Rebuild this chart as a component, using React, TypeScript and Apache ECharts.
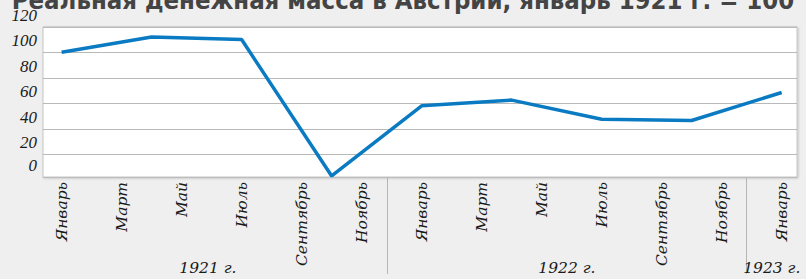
import React, { useEffect, useRef } from "react";
import * as echarts from "echarts";

const chartTitle = "Реальная денежная масса в Австрии, январь 1921 г. = 100";
const monthLabels = [
  "Январь", "Март", "Май", "Июль", "Сентябрь", "Ноябрь",
  "Январь", "Март", "Май", "Июль", "Сентябрь", "Ноябрь",
  "Январь",
];
const labelMonths = [0, 2, 4, 6, 8, 10, 12, 14, 16, 18, 20, 22, 24];
const yearLabels = ["1921 г.", "1922 г.", "1923 г."];
// months counted from January 1921
const dataMonths = [0, 3, 6, 9, 12, 15, 18, 21, 24];
const values = [100, 112, 110, 3, 58, 62.5, 47.5, 46.5, 68.5];
const yTickLabels = [0, 20, 40, 60, 80, 100, 120];

export default function App() {
  const ref = useRef<HTMLDivElement>(null);
  useEffect(() => {
    if (!ref.current) return;
    const chart = echarts.init(ref.current, undefined, { renderer: "svg" });
    const xMin = -0.62;
    const xMax = 24.51;
    const separators = [10.85, 22.83];
    const groupEdges = [-1.1, separators[0], separators[1], xMax];
    const yearCenters = yearLabels.map((_, i) => (groupEdges[i] + groupEdges[i + 1]) / 2);
    const textColor = "#1a1a1a";
    chart.setOption({
      animation: false,
      backgroundColor: "#efefef",
      title: {
        text: chartTitle,
        left: "center",
        top: -18,
        textStyle: {
          fontSize: 25.5,
          fontWeight: "bold",
          fontFamily: "'DejaVu Sans Condensed', 'Liberation Sans Narrow', 'DejaVu Sans', sans-serif",
          color: "#444",
        },
      },
      grid: {
        left: 43,
        right: 9,
        top: 26.8,
        bottom: 102,
        show: true,
        backgroundColor: "#ffffff",
        borderColor: "#c4c4c4",
        borderWidth: 1,
        shadowColor: "rgba(0,0,0,0.18)",
        shadowBlur: 2,
        shadowOffsetX: 1,
        shadowOffsetY: 1,
      },
      xAxis: [
        {
          type: "value",
          min: xMin,
          max: xMax,
          splitLine: { show: false },
          axisLine: { show: true, lineStyle: { color: "#bdbdbd", width: 1 } },
          axisTick: {
            show: true,
            customValues: separators,
            length: 97,
            lineStyle: { color: "#b5b5b5", width: 1 },
          },
          axisLabel: {
            customValues: labelMonths,
            rotate: 90,
            margin: 5,
            formatter: (v: number) => monthLabels[labelMonths.indexOf(Math.round(v))] ?? "",
            fontFamily: "'DejaVu Serif', serif",
            fontStyle: "italic",
            fontSize: 15.5,
            color: textColor,
          },
        },
        {
          type: "value",
          min: xMin,
          max: xMax,
          position: "bottom",
          splitLine: { show: false },
          axisLine: { show: false },
          axisTick: { show: false },
          axisLabel: {
            customValues: yearCenters,
            margin: 83,
            formatter: (v: number) => {
              let best = 0;
              yearCenters.forEach((c, i) => {
                if (Math.abs(c - v) < Math.abs(yearCenters[best] - v)) best = i;
              });
              return yearLabels[best];
            },
            fontFamily: "'DejaVu Serif', serif",
            fontStyle: "italic",
            fontSize: 15.5,
            color: textColor,
          },
        },
      ],
      yAxis: {
        type: "value",
        min: 2.2,
        max: 120,
        minInterval: 20,
        maxInterval: 20,
        axisLine: { show: false },
        axisTick: { show: false },
        splitLine: { show: true, lineStyle: { color: "#b9b9b9", width: 1 } },
        axisLabel: {
          margin: 6,
          verticalAlign: "bottom",
          padding: [0, 0, 3, 0],
          formatter: (v: number) => {
            let best = yTickLabels[0];
            yTickLabels.forEach((t) => {
              if (Math.abs(t - v) < Math.abs(best - v)) best = t;
            });
            return String(best);
          },
          fontFamily: "'Liberation Serif', serif",
          fontStyle: "italic",
          fontSize: 17,
          color: textColor,
        },
      },
      series: [
        {
          type: "line",
          xAxisIndex: 0,
          data: dataMonths.map((m, i) => [m, values[i]]),
          symbol: "none",
          clip: false,
          lineStyle: { color: "#0a7bc2", width: 3.5 },
        },
      ],
    });
    return () => chart.dispose();
  }, []);
  return (
    <div
      ref={ref}
      style={{ position: "fixed", left: 0, top: 0, width: 806, height: 279 }}
    />
  );
}
